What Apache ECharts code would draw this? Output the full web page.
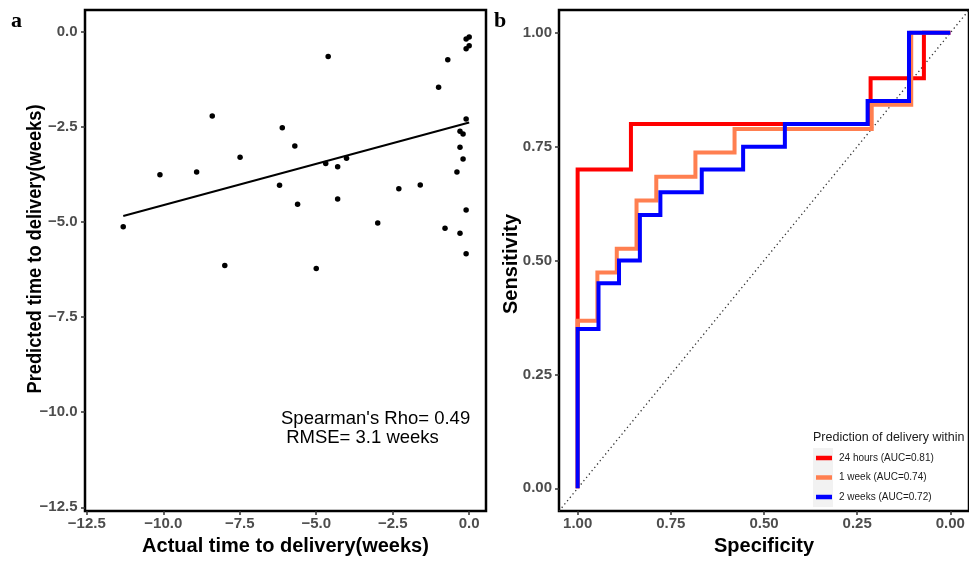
<!DOCTYPE html>
<html><head><meta charset="utf-8">
<script src="https://cdn.jsdelivr.net/npm/echarts@6/dist/echarts.min.js"></script>
<style>html,body{margin:0;padding:0;background:#fff}#c{width:969px;height:561px}</style>
</head><body><div id="c"></div>
<script>
// ---- Panel a data (weeks) ----
const actualWeeks = [-11.31,-10.11,-8.91,-8.40,-7.99,-7.49,-6.20,-6.11,-5.70,-5.61,-5.00,-4.69,-4.61,-4.30,-4.30,-4.01,-2.99,-2.30,-1.60,-1.00,-0.79,-0.70,-0.40,-0.30,-0.30,-0.30,-0.20,-0.20,-0.10,-0.10,-0.10,-0.10,0.00,-0.10,0.00];
const predictedWeeks = [-5.12,-3.75,-3.68,-2.21,-6.14,-3.29,-4.03,-2.52,-3.00,-4.53,-6.22,-3.46,-0.64,-3.54,-4.39,-3.32,-5.02,-4.12,-4.02,-1.45,-5.16,-0.73,-3.68,-2.61,-3.03,-5.29,-2.68,-3.34,-2.29,-4.68,-5.83,-0.44,-0.36,-0.18,-0.13];
const fitActual = [-11.31, 0.00];
const fitPredicted = [-4.84, -2.38];
const leftTicks = [-12.5,-10,-7.5,-5,-2.5,0];
const statsText = "Spearman's Rho= 0.49\n RMSE= 3.1 weeks";

// ---- Panel b data (ROC) ----
const rocTicks = [0,0.25,0.5,0.75,1];
const seriesNames = ['24 hours (AUC=0.81)','1 week (AUC=0.74)','2 weeks (AUC=0.72)'];
const seriesColors = ['#FF0000','#FF7F50','#0000FF'];
const spec24h = [1,1,0.857,0.857,0.214,0.214,0.071,0.071,0];
const sens24h = [0,0.70,0.70,0.80,0.80,0.90,0.90,1,1];
const spec1w = [1,1,0.947,0.947,0.895,0.895,0.842,0.842,0.789,0.789,0.684,0.684,0.579,0.579,0.211,0.211,0.105,0.105,0];
const sens1w = [0,0.368,0.368,0.474,0.474,0.526,0.526,0.632,0.632,0.684,0.684,0.737,0.737,0.789,0.789,0.842,0.842,1,1];
const spec2w = [1,1,0.944,0.944,0.889,0.889,0.833,0.833,0.778,0.778,0.667,0.667,0.556,0.556,0.444,0.444,0.222,0.222,0.111,0.111,0];
const sens2w = [0,0.35,0.35,0.45,0.45,0.50,0.50,0.60,0.60,0.65,0.65,0.70,0.70,0.75,0.75,0.80,0.80,0.85,0.85,1,1];
const diagSpec = [1.05,-0.05];
const diagSens = [-0.05,1.05];

const FF = '"Liberation Sans", Arial, Helvetica, sans-serif';
const zip = (a,b) => a.map((v,i)=>[v,b[i]]);
const fmt = d => v => v.toFixed(d).replace('-', '\u2212');

const tickStyle = {show:true, inside:false, length:4, lineStyle:{color:'#333', width:1.5}};
const labelStyle = {color:'#4d4d4d', fontSize:15, fontWeight:'bold', fontFamily:FF};
const nameStyle = {color:'#000', fontSize:20, fontWeight:'bold', fontFamily:FF};
const noLine = {show:false, onZero:false};

const chart = echarts.init(document.getElementById('c'), null, {renderer:'canvas'});
chart.setOption({
  animation:false,
  backgroundColor:'#fff',
  grid:[
    {left:85, top:10, width:401, height:508, show:true, borderColor:'#000', borderWidth:2.5, containLabel:false},
    {left:559, top:10, width:411, height:507, show:true, borderColor:'#000', borderWidth:2.5, containLabel:false}
  ],
  xAxis:[
    {gridIndex:0, type:'value', position:'bottom', min:-12.56, max:0.55, splitLine:{show:false}, axisLine:noLine,
     axisTick:Object.assign({customValues:leftTicks}, tickStyle),
     axisLabel:Object.assign({customValues:leftTicks, formatter:fmt(1), margin:5}, labelStyle),
     name:'Actual time to delivery(weeks)', nameLocation:'middle', nameGap:21, nameTextStyle:nameStyle},
    {gridIndex:1, type:'value', position:'bottom', min:-0.05, max:1.05, inverse:true, splitLine:{show:false}, axisLine:noLine,
     axisTick:Object.assign({customValues:rocTicks}, tickStyle),
     axisLabel:Object.assign({customValues:rocTicks, formatter:fmt(2), margin:5}, labelStyle),
     name:'Specificity', nameLocation:'middle', nameGap:21, nameTextStyle:nameStyle}
  ],
  yAxis:[
    {gridIndex:0, type:'value', position:'left', min:-12.6, max:0.58, splitLine:{show:false}, axisLine:noLine,
     axisTick:Object.assign({customValues:leftTicks}, tickStyle),
     axisLabel:Object.assign({customValues:leftTicks, formatter:fmt(1), margin:7.5}, labelStyle)},
    {gridIndex:1, type:'value', position:'left', min:-0.05, max:1.05, splitLine:{show:false}, axisLine:noLine,
     axisTick:Object.assign({customValues:rocTicks}, tickStyle),
     axisLabel:Object.assign({customValues:rocTicks, formatter:fmt(2), margin:7}, labelStyle)}
  ],
  legend:{
    data:seriesNames, orient:'vertical', left:816, top:451, padding:0, itemWidth:16, itemHeight:4.5, itemGap:5.5,
    icon:'rect', selectedMode:false,
    textStyle:{fontSize:10, color:'#1a1a1a', fontFamily:FF, lineHeight:14, padding:[0,0,0,2]}
  },
  graphic:[
    {type:'rect', shape:{x:813, y:448, width:20, height:59}, style:{fill:'#F2F2F2'}, z:1, silent:true},
    {type:'text', x:813, y:437.5, style:{text:'Prediction of delivery within', font:'12.5px '+FF, fill:'#1a1a1a', verticalAlign:'middle', align:'left'}},
    {type:'text', x:281, y:409, style:{text:statsText, font:'18.5px '+FF, fill:'#000', lineHeight:19.6, verticalAlign:'top', align:'left'}},
    {type:'text', x:35.5, y:249, rotation:Math.PI/2, scaleX:0.912, style:{text:'Predicted time to delivery(weeks)', font:'bold 20px '+FF, fill:'#000', align:'center', verticalAlign:'middle'}},
    {type:'text', x:511, y:264, rotation:Math.PI/2, style:{text:'Sensitivity', font:'bold 20px '+FF, fill:'#000', align:'center', verticalAlign:'middle'}},
    {type:'text', x:11, y:21, style:{text:'a', font:'bold 22px "Liberation Serif", "Times New Roman", serif', fill:'#000', verticalAlign:'middle', align:'left'}},
    {type:'text', x:494, y:21, style:{text:'b', font:'bold 22px "Liberation Serif", "Times New Roman", serif', fill:'#000', verticalAlign:'middle', align:'left'}}
  ],
  series:[
    {type:'scatter', xAxisIndex:0, yAxisIndex:0, data:zip(actualWeeks, predictedWeeks), symbolSize:5.5, itemStyle:{color:'#000', opacity:1}, silent:true},
    {type:'line', xAxisIndex:0, yAxisIndex:0, data:zip(fitActual, fitPredicted), symbol:'none', lineStyle:{color:'#000', width:2}, silent:true},
    {type:'line', name:'diag', xAxisIndex:1, yAxisIndex:1, data:zip(diagSpec, diagSens), symbol:'none', lineStyle:{color:'#333', width:1.3, type:[1.3,3]}, silent:true},
    {type:'line', name:seriesNames[0], xAxisIndex:1, yAxisIndex:1, data:zip(spec24h, sens24h), symbol:'none', color:seriesColors[0], lineStyle:{color:seriesColors[0], width:4, join:'miter'}, silent:true},
    {type:'line', name:seriesNames[1], xAxisIndex:1, yAxisIndex:1, data:zip(spec1w, sens1w), symbol:'none', color:seriesColors[1], lineStyle:{color:seriesColors[1], width:4, join:'miter'}, silent:true},
    {type:'line', name:seriesNames[2], xAxisIndex:1, yAxisIndex:1, data:zip(spec2w, sens2w), symbol:'none', color:seriesColors[2], lineStyle:{color:seriesColors[2], width:4, join:'miter'}, silent:true}
  ]
});
</script></body></html>
